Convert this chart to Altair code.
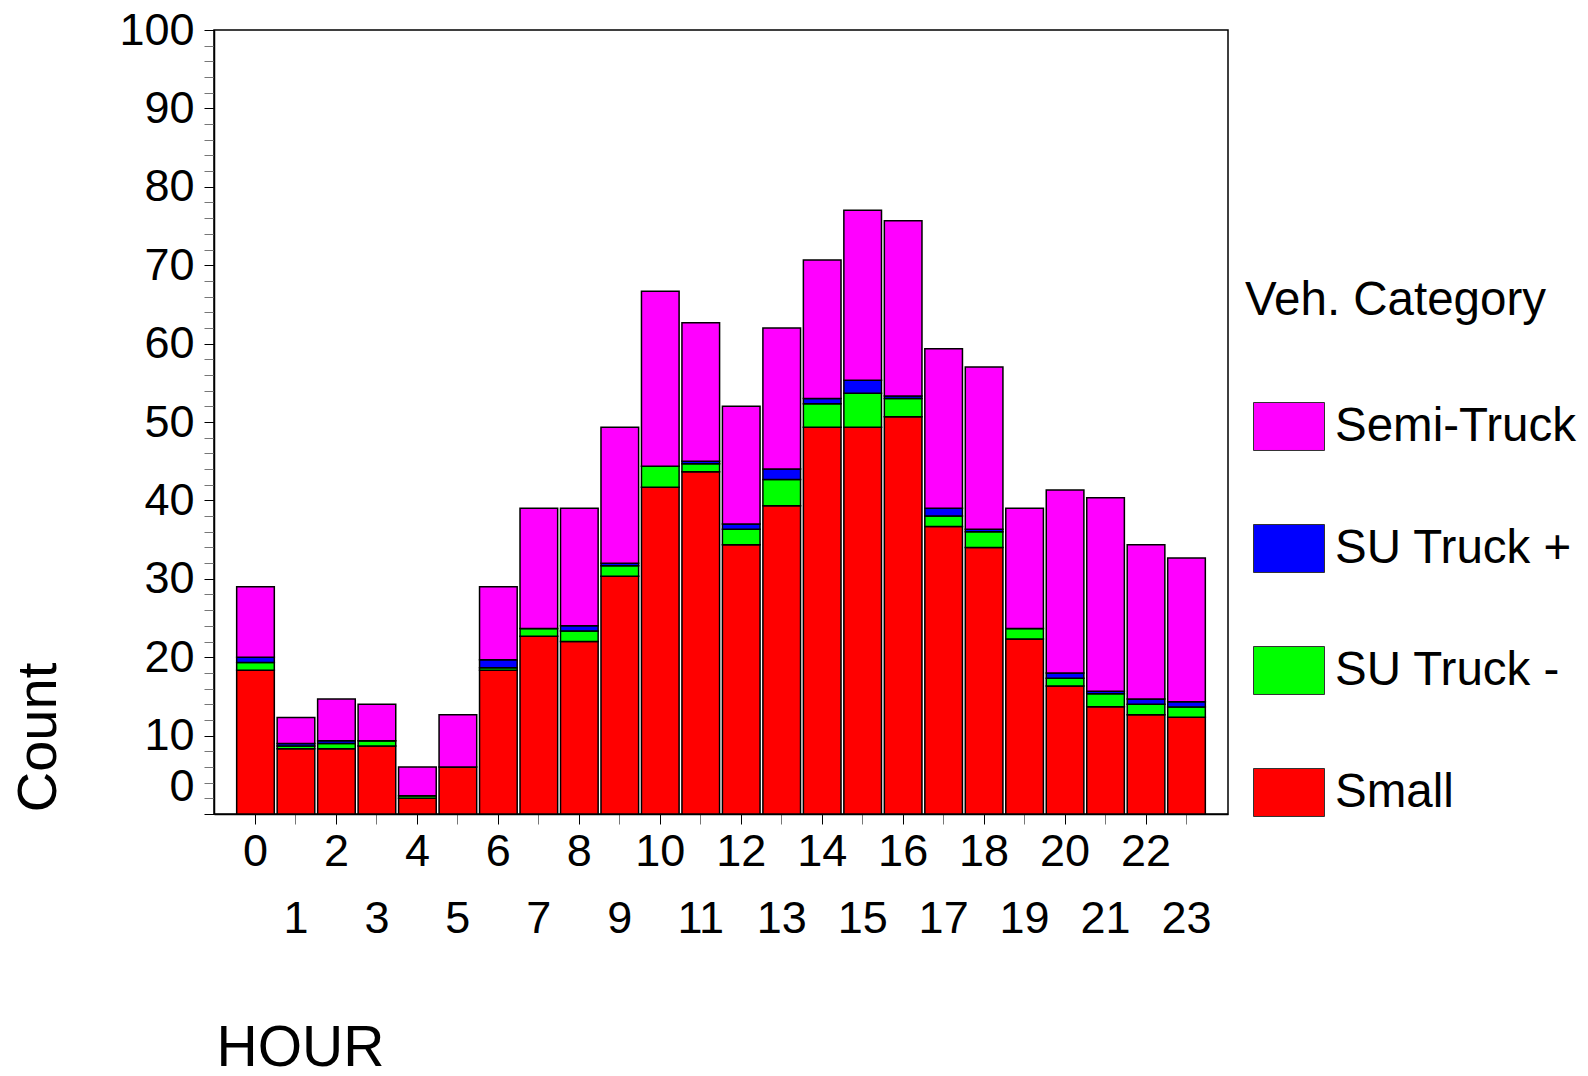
import altair as alt
import pandas as pd

# Hourly average vehicle counts by category
hours = list(range(24))
small = [18.33, 8.33, 8.33, 8.67, 2.0, 6.0, 18.33, 22.67, 22.0, 30.33, 41.67, 43.67,
         34.33, 39.33, 49.33, 49.33, 50.67, 36.67, 34.0, 22.33, 16.33, 13.67, 12.67, 12.33]
su_minus = [1.0, 0.33, 0.67, 0.67, 0.33, 0.0, 0.33, 1.0, 1.33, 1.33, 2.67, 1.0,
            2.0, 3.33, 3.0, 4.33, 2.33, 1.33, 2.0, 1.33, 1.0, 1.67, 1.33, 1.33]
su_plus = [0.67, 0.33, 0.33, 0.0, 0.0, 0.0, 1.0, 0.0, 0.67, 0.33, 0.0, 0.33,
           0.67, 1.33, 0.67, 1.67, 0.33, 1.0, 0.33, 0.0, 0.67, 0.33, 0.67, 0.67]
semi = [9.0, 3.33, 5.33, 4.67, 3.67, 6.67, 9.33, 15.33, 15.0, 17.33, 22.33, 17.67,
        15.0, 18.0, 17.67, 21.67, 22.33, 20.33, 20.67, 15.33, 23.33, 24.67, 19.67, 18.33]

categories = ["Semi-Truck", "SU Truck +", "SU Truck -", "Small"]
colors = ["#ff00ff", "#0000ff", "#00ff00", "#ff0000"]
stack_rank = {"Small": 0, "SU Truck -": 1, "SU Truck +": 2, "Semi-Truck": 3}

rows = []
for cat, vals in [("Small", small), ("SU Truck -", su_minus),
                  ("SU Truck +", su_plus), ("Semi-Truck", semi)]:
    for h, v in zip(hours, vals):
        rows.append({"hour": h, "category": cat, "count": v, "rank": stack_rank[cat]})
df = pd.DataFrame(rows)

FONT = "Liberation Sans"

legend_rect = "M-1,-0.676H1V0.676H-1Z"

chart = alt.Chart(df).mark_bar(stroke="black", strokeWidth=1.5).encode(
    x=alt.X(
        "hour:O",
        scale=alt.Scale(paddingInner=0.07, paddingOuter=0.56),
        axis=alt.Axis(
            title="HOUR",
            labelAngle=0,
            labelFont=FONT,
            labelFontSize=45,
            labelColor="black",
            labelExpr="datum.value % 2 == 0 ? datum.label : ['', datum.label]",
            labelLineHeight=67,
            labelPadding=5,
            labelBaseline="top",
            tickSize=10,
            tickColor={"condition": {"test": "datum.value % 2 == 0", "value": "black"}, "value": "#777777"},
            domainColor="black",
            domainWidth=1.5,
            titleFont=FONT,
            titleFontSize=57,
            titleFontWeight="normal",
            titleColor="black",
            titleAnchor="start",
            titleAlign="left",
            titleBaseline="middle",
            titleX=2,
            titleY=234,
        ),
    ),
    y=alt.Y(
        "sum(count):Q",
        stack="zero",
        scale=alt.Scale(domain=[0, 100], nice=False),
        axis=alt.Axis(
            title="Count",
            values=list(range(0, 101, 2)),
            labelExpr="datum.value % 10 == 0 ? datum.label : ''",
            labelFont=FONT,
            labelFontSize=45,
            labelColor="black",
            labelPadding=10,
            labelOffset={"condition": {"test": "datum.value == 0", "value": -28}, "value": 0},
            tickSize=10,
            tickColor={"condition": {"test": "datum.value % 10 == 0", "value": "black"}, "value": "#777777"},
            domainColor="black",
            domainWidth=1.5,
            grid=False,
            titleFont=FONT,
            titleFontSize=56,
            titleFontWeight="normal",
            titleColor="black",
            titleAngle=270,
            titleAlign="center",
            titleBaseline="middle",
            titleX=-176,
            titleY=707,
        ),
    ),
    color=alt.Color(
        "category:N",
        scale=alt.Scale(domain=categories, range=colors),
        legend=alt.Legend(
            title="Veh. Category",
            orient="none",
            legendX=1031,
            legendY=247,
            titleFont=FONT,
            titleFontSize=47.5,
            titleFontWeight="normal",
            titleColor="black",
            titleLimit=0,
            titlePadding=66,
            labelFont=FONT,
            labelFontSize=47.5,
            labelColor="black",
            labelLimit=0,
            labelOffset=10,
            symbolType=legend_rect,
            symbolSize=5041,
            symbolStrokeColor="#333333",
            symbolStrokeWidth=1,
            symbolOffset=8,
            rowPadding=60,
            symbolOpacity=1,
        ),
    ),
    order=alt.Order("rank:Q", sort="ascending"),
).properties(
    width=1014,
    height=784,
    background="white",
    autosize=alt.AutoSizeParams(type="none"),
    padding={"left": 214, "top": 30, "right": 360, "bottom": 262},
).configure_view(
    stroke="black",
    strokeWidth=1.5,
)

chart.save("out.html", embed_options={"renderer": "svg", "actions": False})
